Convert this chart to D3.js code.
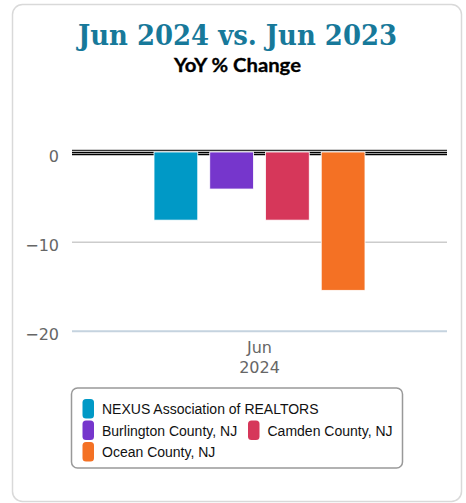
<!DOCTYPE html>
<html>
<head>
<meta charset="utf-8">
<script src="https://cdn.jsdelivr.net/npm/d3@7"></script>
<style>
  html, body { margin: 0; padding: 0; background: #fff; }
  svg { display: block; }
</style>
</head>
<body>
<svg id="chart" width="466" height="503"></svg>
<script>
const categories = ['Jun 2024']
const seriesNames = ['NEXUS Association of REALTORS', 'Burlington County, NJ', 'Camden County, NJ', 'Ocean County, NJ']
const seriesValues = [-7.5, -4.0, -7.5, -15.4]
const seriesColors = ['#0099c6', '#7636cc', '#d6375a', '#f47124']
const yTicks = [0, -10, -20]

const svg = d3.select('#chart')
const margin = {left: 72, right: 19, top: 153.5, bottom: 172}
const width = 466
const height = 503

// card
svg.append('rect')
  .attr('x', 12.5).attr('y', 4.5)
  .attr('width', 449).attr('height', 497)
  .attr('rx', 10)
  .attr('fill', '#fff')
  .attr('stroke', '#d9d9d9')
  .attr('stroke-width', 1.5)

svg.append('text')
  .attr('x', 237.5).attr('y', 45)
  .attr('text-anchor', 'middle')
  .attr('font-family', 'DejaVu Serif')
  .attr('font-weight', 'bold')
  .attr('font-size', 27)
  .attr('textLength', 319)
  .attr('lengthAdjust', 'spacingAndGlyphs')
  .attr('fill', '#17799a')
  .text('Jun 2024 vs. Jun 2023')

svg.append('text')
  .attr('x', 237.5).attr('y', 71.5)
  .attr('text-anchor', 'middle')
  .attr('font-family', 'Lato')
  .attr('font-weight', 'bold')
  .attr('font-size', 18.5)
  .attr('textLength', 127)
  .attr('lengthAdjust', 'spacingAndGlyphs')
  .attr('stroke', '#000')
  .attr('stroke-width', 0.3)
  .attr('fill', '#000')
  .text('YoY % Change')

const scaleX = d3.scaleBand().domain(categories).range([margin.left, width - margin.right])
const groupPad = scaleX.bandwidth() * 0.2187
const scaleSeries = d3.scaleBand()
  .domain(d3.range(seriesValues.length))
  .range([groupPad, scaleX.bandwidth() - groupPad])
  .paddingInner(0.215)
const scaleY = d3.scaleLinear().domain([-20, 0]).range([height - margin.bottom + 0.2, margin.top])

// grid
const grid = svg.append('g')
grid.selectAll('line')
  .data(yTicks.filter(d => d !== 0 && d !== -20))
  .join('line')
  .attr('x1', margin.left).attr('x2', width - margin.right)
  .attr('y1', d => scaleY(d)).attr('y2', d => scaleY(d))
  .attr('stroke', '#cccccc').attr('stroke-width', 1.5)

grid.append('line')
  .attr('x1', margin.left).attr('x2', width - margin.right)
  .attr('y1', scaleY(-20)).attr('y2', scaleY(-20))
  .attr('stroke', '#c5d3df').attr('stroke-width', 2)

// zero line
grid.append('line')
  .attr('x1', margin.left).attr('x2', width - margin.right)
  .attr('y1', scaleY(0)).attr('y2', scaleY(0))
  .attr('stroke', '#000').attr('stroke-width', 3.5)
grid.append('line')
  .attr('x1', margin.left).attr('x2', width - margin.right)
  .attr('y1', scaleY(0)).attr('y2', scaleY(0))
  .attr('stroke', '#999').attr('stroke-width', 1)

// bars
const items = svg.append('g')
  .attr('transform', `translate(${scaleX(categories[0])}, 0)`)
items.selectAll('rect')
  .data(seriesValues)
  .join('rect')
  .attr('x', (d, i) => scaleSeries(i))
  .attr('y', d => scaleY(Math.max(0, d)) - 1.5)
  .attr('width', scaleSeries.bandwidth())
  .attr('height', d => Math.abs(scaleY(d) - scaleY(0)) + 1.5)
  .attr('fill', (d, i) => seriesColors[i])
  .attr('stroke', '#fff')
  .attr('stroke-width', 0.8)

svg.append('line')
  .attr('x1', margin.left).attr('x2', width - margin.right)
  .attr('y1', scaleY(0) - 3.2).attr('y2', scaleY(0) - 3.2)
  .attr('stroke', '#000').attr('stroke-width', 1)

// y axis
const axisY = d3.axisLeft(scaleY).tickValues(yTicks).tickSize(0).tickPadding(0)
const gy = svg.append('g')
  .attr('transform', `translate(${margin.left - 13}, 0)`)
  .call(axisY)
gy.select('.domain').remove()
gy.selectAll('text')
  .attr('font-family', 'DejaVu Sans')
  .attr('font-size', 16)
  .attr('fill', '#666')
  .attr('dy', '0.5em')

// x axis labels
const xl = svg.append('g')
xl.selectAll('text')
  .data(categories)
  .join('text')
  .attr('x', d => scaleX(d) + scaleX.bandwidth() / 2)
  .attr('y', 352.5)
  .attr('text-anchor', 'middle')
  .attr('font-family', 'DejaVu Sans')
  .attr('font-size', 16)
  .attr('fill', '#666')
  .each(function(d) {
    const parts = d.split(' ')
    d3.select(this).selectAll('tspan')
      .data(parts)
      .join('tspan')
      .attr('x', scaleX(d) + scaleX.bandwidth() / 2)
      .attr('dy', (p, i) => i === 0 ? 0 : 20.7)
      .text(p => p)
  })

// legend
const legend = svg.append('g')
legend.append('rect')
  .attr('x', 71.5).attr('y', 388)
  .attr('width', 331).attr('height', 80)
  .attr('rx', 6)
  .attr('fill', '#fff')
  .attr('stroke', '#999')
  .attr('stroke-width', 1.5)

const legendPos = [[82.5, 409], [82.5, 430.5], [248, 430.5], [82.5, 452]]
const legendItems = legend.selectAll('g.item')
  .data(seriesNames)
  .join('g')
  .attr('class', 'item')
  .attr('transform', (d, i) => `translate(${legendPos[i][0]}, ${legendPos[i][1]})`)
legendItems.append('rect')
  .attr('x', 0).attr('y', -10)
  .attr('width', 11.5).attr('height', 19.5)
  .attr('rx', 3.5)
  .attr('fill', (d, i) => seriesColors[i])
legendItems.append('text')
  .attr('x', 19.5).attr('y', 5.2)
  .attr('font-family', 'Liberation Sans')
  .attr('font-size', 14)
  .attr('fill', '#111')
  .text(d => d)
</script>
</body>
</html>
